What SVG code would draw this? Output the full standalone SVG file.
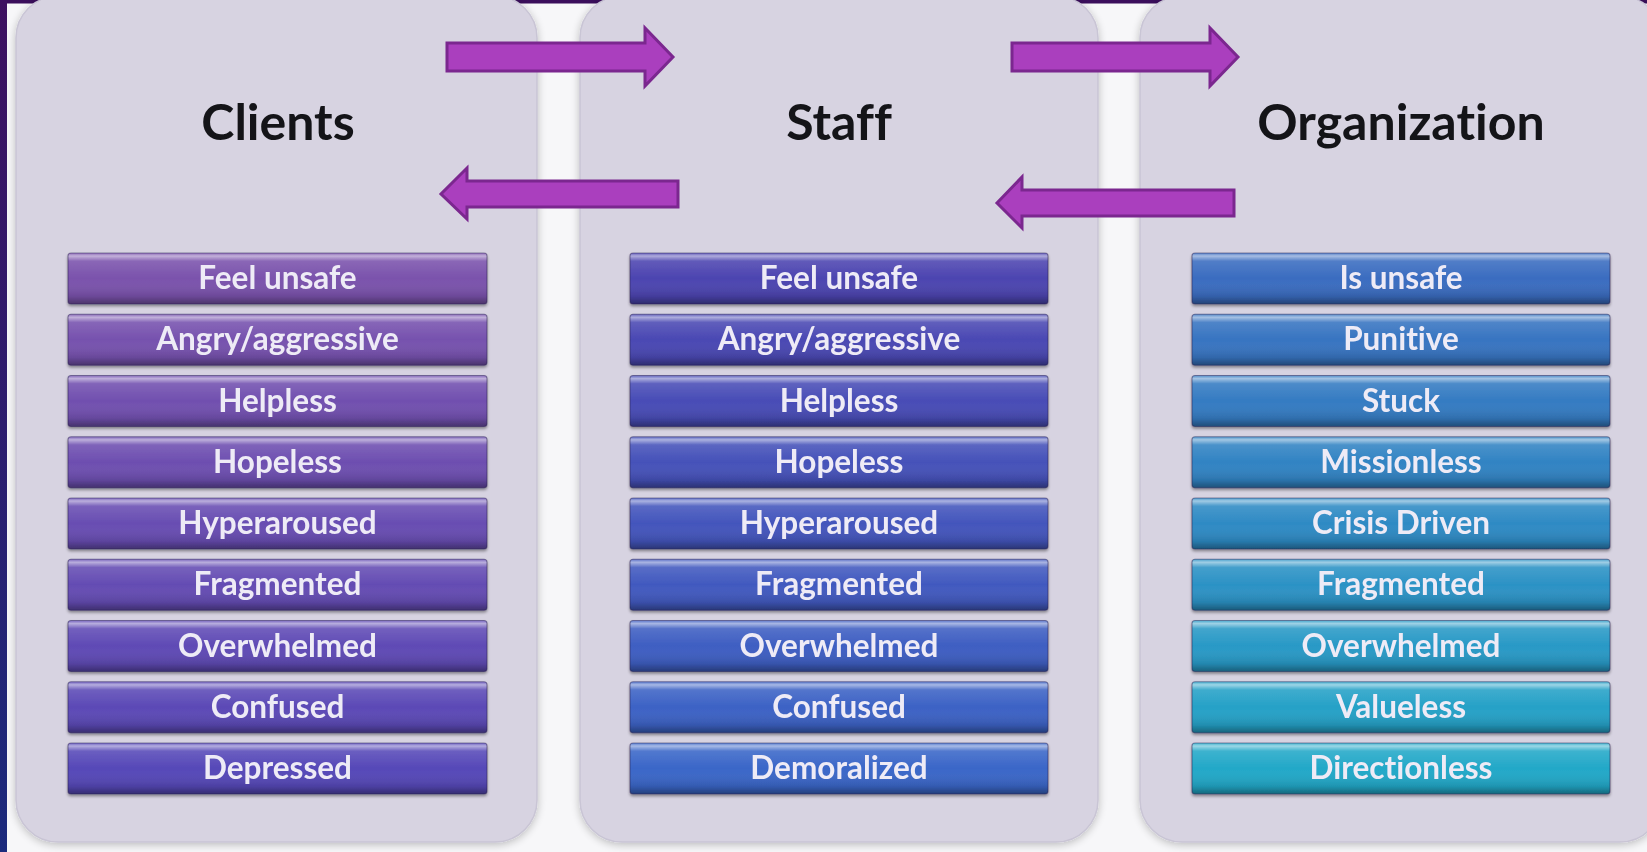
<svg xmlns="http://www.w3.org/2000/svg" width="1647" height="852" viewBox="0 0 1647 852">
<style>
.panel{fill:#d7d3e1;stroke:#c9c5d5;stroke-width:1.5}
.title{font-family:Lato,"Open Sans","Liberation Sans",sans-serif;font-weight:bold;font-size:50px;fill:#141418;text-anchor:middle;font-variant-ligatures:none}
.lbl{font-family:Lato,"Open Sans","Liberation Sans",sans-serif;font-weight:bold;font-size:31.5px;fill:#eeebf6;text-anchor:middle;font-variant-ligatures:none}
.gloss{fill:url(#gloss)}
.edge{fill:none;stroke:#2a2250;stroke-opacity:0.45;stroke-width:1.2}
.arrow{fill:#aa3fbe;stroke:#7b278f;stroke-width:3;stroke-linejoin:miter}
</style>
<defs>
<linearGradient id="gloss" x1="0" y1="0" x2="0" y2="1">
<stop offset="0" stop-color="#ffffff" stop-opacity="0.15"/>
<stop offset="0.06" stop-color="#ffffff" stop-opacity="0.55"/>
<stop offset="0.16" stop-color="#ffffff" stop-opacity="0.12"/>
<stop offset="0.5" stop-color="#ffffff" stop-opacity="0"/>
<stop offset="0.85" stop-color="#000000" stop-opacity="0.12"/>
<stop offset="1" stop-color="#000000" stop-opacity="0.38"/>
</linearGradient>
<linearGradient id="leftbar" x1="0" y1="0" x2="0" y2="1">
<stop offset="0" stop-color="#3d1060"/>
<stop offset="1" stop-color="#1b2a7c"/>
</linearGradient>
<filter id="pshadow" x="-5%" y="-5%" width="110%" height="110%">
<feGaussianBlur in="SourceAlpha" stdDeviation="4"/>
<feOffset dx="0" dy="2"/>
<feComponentTransfer><feFuncA type="linear" slope="0.25"/></feComponentTransfer>
<feMerge><feMergeNode/><feMergeNode in="SourceGraphic"/></feMerge>
</filter>
<filter id="bshadow" x="-5%" y="-20%" width="110%" height="150%">
<feGaussianBlur in="SourceAlpha" stdDeviation="1.5"/>
<feOffset dx="0" dy="2"/>
<feComponentTransfer><feFuncA type="linear" slope="0.4"/></feComponentTransfer>
<feMerge><feMergeNode/><feMergeNode in="SourceGraphic"/></feMerge>
</filter>
</defs>
<rect x="0" y="0" width="1647" height="852" fill="#f7f7f9"/>
<rect x="0" y="0" width="1647" height="3.5" fill="#3b0f5c"/>
<rect x="0" y="0" width="7" height="852" fill="url(#leftbar)"/>

<g id="panel-clients">
<rect class="panel" x="16" y="-4" width="521" height="846" rx="42" filter="url(#pshadow)"/>
<text class="title" x="278" y="140">Clients</text>
</g>
<g id="panel-staff">
<rect class="panel" x="580" y="-4" width="518" height="846" rx="42" filter="url(#pshadow)"/>
<text class="title" x="839" y="140">Staff</text>
</g>
<g id="panel-organization">
<rect class="panel" x="1140" y="-4" width="522" height="846" rx="42" filter="url(#pshadow)"/>
<text class="title" x="1401" y="140">Organization</text>
</g>

<g id="clients-items">
<g id="c1" filter="url(#bshadow)"><rect x="68" y="253" width="419" height="51" rx="3" fill="#7a52ac"/><rect class="gloss" x="68" y="253" width="419" height="51" rx="3"/><rect class="edge" x="68" y="253" width="419" height="51" rx="3"/><text class="lbl" x="277.5" y="289">Feel unsafe</text></g>
<g id="c2" filter="url(#bshadow)"><rect x="68" y="314.25" width="419" height="51" rx="3" fill="#7651ae"/><rect class="gloss" x="68" y="314.25" width="419" height="51" rx="3"/><rect class="edge" x="68" y="314.25" width="419" height="51" rx="3"/><text class="lbl" x="277.5" y="350.25">Angry/aggressive</text></g>
<g id="c3" filter="url(#bshadow)"><rect x="68" y="375.5" width="419" height="51" rx="3" fill="#714faf"/><rect class="gloss" x="68" y="375.5" width="419" height="51" rx="3"/><rect class="edge" x="68" y="375.5" width="419" height="51" rx="3"/><text class="lbl" x="277.5" y="411.5">Helpless</text></g>
<g id="c4" filter="url(#bshadow)"><rect x="68" y="436.75" width="419" height="51" rx="3" fill="#6d4eb0"/><rect class="gloss" x="68" y="436.75" width="419" height="51" rx="3"/><rect class="edge" x="68" y="436.75" width="419" height="51" rx="3"/><text class="lbl" x="277.5" y="472.75">Hopeless</text></g>
<g id="c5" filter="url(#bshadow)"><rect x="68" y="498" width="419" height="51" rx="3" fill="#684db2"/><rect class="gloss" x="68" y="498" width="419" height="51" rx="3"/><rect class="edge" x="68" y="498" width="419" height="51" rx="3"/><text class="lbl" x="277.5" y="534">Hyperaroused</text></g>
<g id="c6" filter="url(#bshadow)"><rect x="68" y="559.25" width="419" height="51" rx="3" fill="#644cb3"/><rect class="gloss" x="68" y="559.25" width="419" height="51" rx="3"/><rect class="edge" x="68" y="559.25" width="419" height="51" rx="3"/><text class="lbl" x="277.5" y="595.25">Fragmented</text></g>
<g id="c7" filter="url(#bshadow)"><rect x="68" y="620.5" width="419" height="51" rx="3" fill="#5f4ab5"/><rect class="gloss" x="68" y="620.5" width="419" height="51" rx="3"/><rect class="edge" x="68" y="620.5" width="419" height="51" rx="3"/><text class="lbl" x="277.5" y="656.5">Overwhelmed</text></g>
<g id="c8" filter="url(#bshadow)"><rect x="68" y="681.75" width="419" height="51" rx="3" fill="#5b49b6"/><rect class="gloss" x="68" y="681.75" width="419" height="51" rx="3"/><rect class="edge" x="68" y="681.75" width="419" height="51" rx="3"/><text class="lbl" x="277.5" y="717.75">Confused</text></g>
<g id="c9" filter="url(#bshadow)"><rect x="68" y="743" width="419" height="51" rx="3" fill="#5648b8"/><rect class="gloss" x="68" y="743" width="419" height="51" rx="3"/><rect class="edge" x="68" y="743" width="419" height="51" rx="3"/><text class="lbl" x="277.5" y="779">Depressed</text></g>
</g>

<g id="staff-items">
<g id="s1" filter="url(#bshadow)"><rect x="630" y="253" width="418" height="51" rx="3" fill="#4c44b0"/><rect class="gloss" x="630" y="253" width="418" height="51" rx="3"/><rect class="edge" x="630" y="253" width="418" height="51" rx="3"/><text class="lbl" x="839" y="289">Feel unsafe</text></g>
<g id="s2" filter="url(#bshadow)"><rect x="630" y="314.25" width="418" height="51" rx="3" fill="#4a48b3"/><rect class="gloss" x="630" y="314.25" width="418" height="51" rx="3"/><rect class="edge" x="630" y="314.25" width="418" height="51" rx="3"/><text class="lbl" x="839" y="350.25">Angry/aggressive</text></g>
<g id="s3" filter="url(#bshadow)"><rect x="630" y="375.5" width="418" height="51" rx="3" fill="#484cb6"/><rect class="gloss" x="630" y="375.5" width="418" height="51" rx="3"/><rect class="edge" x="630" y="375.5" width="418" height="51" rx="3"/><text class="lbl" x="839" y="411.5">Helpless</text></g>
<g id="s4" filter="url(#bshadow)"><rect x="630" y="436.75" width="418" height="51" rx="3" fill="#4551b9"/><rect class="gloss" x="630" y="436.75" width="418" height="51" rx="3"/><rect class="edge" x="630" y="436.75" width="418" height="51" rx="3"/><text class="lbl" x="839" y="472.75">Hopeless</text></g>
<g id="s5" filter="url(#bshadow)"><rect x="630" y="498" width="418" height="51" rx="3" fill="#4355bc"/><rect class="gloss" x="630" y="498" width="418" height="51" rx="3"/><rect class="edge" x="630" y="498" width="418" height="51" rx="3"/><text class="lbl" x="839" y="534">Hyperaroused</text></g>
<g id="s6" filter="url(#bshadow)"><rect x="630" y="559.25" width="418" height="51" rx="3" fill="#4159bf"/><rect class="gloss" x="630" y="559.25" width="418" height="51" rx="3"/><rect class="edge" x="630" y="559.25" width="418" height="51" rx="3"/><text class="lbl" x="839" y="595.25">Fragmented</text></g>
<g id="s7" filter="url(#bshadow)"><rect x="630" y="620.5" width="418" height="51" rx="3" fill="#3e5ec2"/><rect class="gloss" x="630" y="620.5" width="418" height="51" rx="3"/><rect class="edge" x="630" y="620.5" width="418" height="51" rx="3"/><text class="lbl" x="839" y="656.5">Overwhelmed</text></g>
<g id="s8" filter="url(#bshadow)"><rect x="630" y="681.75" width="418" height="51" rx="3" fill="#3c62c5"/><rect class="gloss" x="630" y="681.75" width="418" height="51" rx="3"/><rect class="edge" x="630" y="681.75" width="418" height="51" rx="3"/><text class="lbl" x="839" y="717.75">Confused</text></g>
<g id="s9" filter="url(#bshadow)"><rect x="630" y="743" width="418" height="51" rx="3" fill="#3a66c8"/><rect class="gloss" x="630" y="743" width="418" height="51" rx="3"/><rect class="edge" x="630" y="743" width="418" height="51" rx="3"/><text class="lbl" x="839" y="779">Demoralized</text></g>
</g>

<g id="org-items">
<g id="o1" filter="url(#bshadow)"><rect x="1192" y="253" width="418" height="51" rx="3" fill="#3a6cc0"/><rect class="gloss" x="1192" y="253" width="418" height="51" rx="3"/><rect class="edge" x="1192" y="253" width="418" height="51" rx="3"/><text class="lbl" x="1401" y="289">Is unsafe</text></g>
<g id="o2" filter="url(#bshadow)"><rect x="1192" y="314.25" width="418" height="51" rx="3" fill="#3774c1"/><rect class="gloss" x="1192" y="314.25" width="418" height="51" rx="3"/><rect class="edge" x="1192" y="314.25" width="418" height="51" rx="3"/><text class="lbl" x="1401" y="350.25">Punitive</text></g>
<g id="o3" filter="url(#bshadow)"><rect x="1192" y="375.5" width="418" height="51" rx="3" fill="#347bc2"/><rect class="gloss" x="1192" y="375.5" width="418" height="51" rx="3"/><rect class="edge" x="1192" y="375.5" width="418" height="51" rx="3"/><text class="lbl" x="1401" y="411.5">Stuck</text></g>
<g id="o4" filter="url(#bshadow)"><rect x="1192" y="436.75" width="418" height="51" rx="3" fill="#3183c3"/><rect class="gloss" x="1192" y="436.75" width="418" height="51" rx="3"/><rect class="edge" x="1192" y="436.75" width="418" height="51" rx="3"/><text class="lbl" x="1401" y="472.75">Missionless</text></g>
<g id="o5" filter="url(#bshadow)"><rect x="1192" y="498" width="418" height="51" rx="3" fill="#2e8ac4"/><rect class="gloss" x="1192" y="498" width="418" height="51" rx="3"/><rect class="edge" x="1192" y="498" width="418" height="51" rx="3"/><text class="lbl" x="1401" y="534">Crisis Driven</text></g>
<g id="o6" filter="url(#bshadow)"><rect x="1192" y="559.25" width="418" height="51" rx="3" fill="#2b92c5"/><rect class="gloss" x="1192" y="559.25" width="418" height="51" rx="3"/><rect class="edge" x="1192" y="559.25" width="418" height="51" rx="3"/><text class="lbl" x="1401" y="595.25">Fragmented</text></g>
<g id="o7" filter="url(#bshadow)"><rect x="1192" y="620.5" width="418" height="51" rx="3" fill="#2899c6"/><rect class="gloss" x="1192" y="620.5" width="418" height="51" rx="3"/><rect class="edge" x="1192" y="620.5" width="418" height="51" rx="3"/><text class="lbl" x="1401" y="656.5">Overwhelmed</text></g>
<g id="o8" filter="url(#bshadow)"><rect x="1192" y="681.75" width="418" height="51" rx="3" fill="#25a1c7"/><rect class="gloss" x="1192" y="681.75" width="418" height="51" rx="3"/><rect class="edge" x="1192" y="681.75" width="418" height="51" rx="3"/><text class="lbl" x="1401" y="717.75">Valueless</text></g>
<g id="o9" filter="url(#bshadow)"><rect x="1192" y="743" width="418" height="51" rx="3" fill="#22a8c8"/><rect class="gloss" x="1192" y="743" width="418" height="51" rx="3"/><rect class="edge" x="1192" y="743" width="418" height="51" rx="3"/><text class="lbl" x="1401" y="779">Directionless</text></g>
</g>

<g id="connectors">
<polygon id="a-clients-staff" class="arrow" points="447,43 645,43 645,28 673,57 645,86 645,71 447,71"/>
<polygon id="a-staff-org" class="arrow" points="1012,43 1210,43 1210,28 1238,57 1210,86 1210,71 1012,71"/>
<polygon id="a-staff-clients" class="arrow" points="678,181 467,181 467,168 441,194 467,219 467,207 678,207"/>
<polygon id="a-org-staff" class="arrow" points="1234,190 1022,190 1022,177 997,203 1022,228 1022,216 1234,216"/>
</g>
</svg>
